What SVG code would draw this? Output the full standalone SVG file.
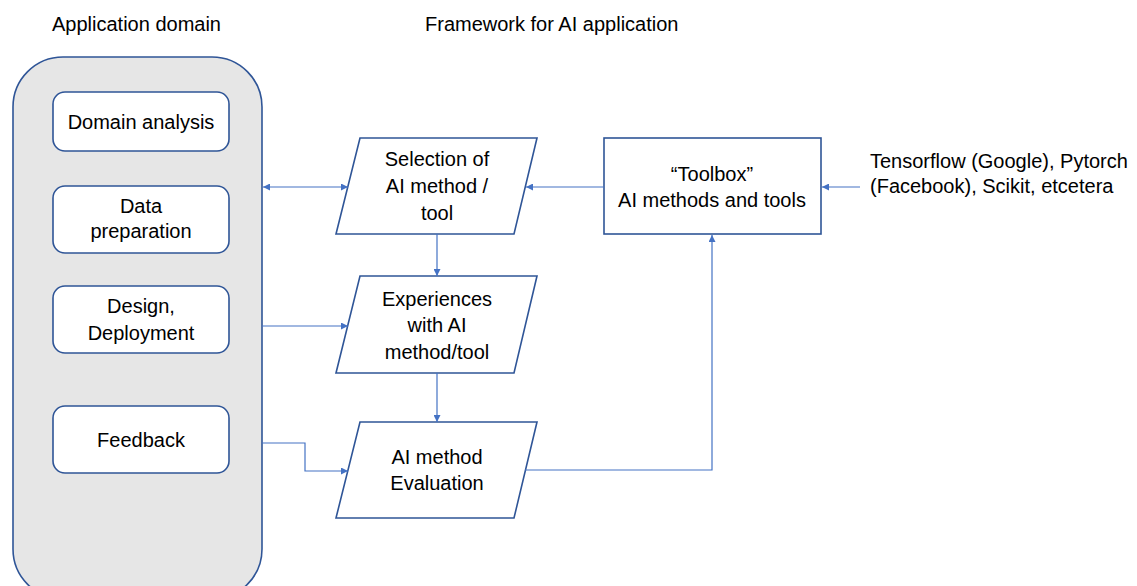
<svg xmlns="http://www.w3.org/2000/svg" width="1137" height="586" viewBox="0 0 1137 586">
<defs>
<style>
text{font-family:"Liberation Sans",Arial,sans-serif;font-size:20px;fill:#000;}
.c{text-anchor:middle;}
.shape{fill:#fff;stroke:#2F5597;stroke-width:1.6;}
.cont{fill:#E6E6E6;stroke:#2F5597;stroke-width:1.6;}
.conn{fill:none;stroke:#4472C4;stroke-width:1.2;}
</style>
<marker id="ah" viewBox="0 0 10 10" refX="10" refY="5" markerWidth="8" markerHeight="7" markerUnits="userSpaceOnUse" orient="auto-start-reverse">
<path d="M0,0 L10,5 L0,10 z" fill="#4472C4"/>
</marker>
</defs>
<rect width="1137" height="586" fill="#fff"/>
<text x="52" y="31">Application domain</text>
<text x="425" y="31">Framework for AI application</text>

<g id="application-domain">
<rect class="cont" x="13" y="57" width="249" height="542" rx="50" ry="50"/>
</g>
<g id="domain-analysis">
<rect class="shape" x="53" y="92" width="176" height="59" rx="12"/>
<text class="c" x="141" y="129">Domain analysis</text>
</g>
<g id="data-preparation">
<rect class="shape" x="53" y="186" width="176" height="67" rx="12"/>
<text class="c" x="141" y="213">Data</text>
<text class="c" x="141" y="238">preparation</text>
</g>
<g id="design-deployment">
<rect class="shape" x="53" y="286" width="176" height="67" rx="12"/>
<text class="c" x="141" y="313">Design,</text>
<text class="c" x="141" y="340">Deployment</text>
</g>
<g id="feedback">
<rect class="shape" x="53" y="406" width="176" height="67" rx="12"/>
<text class="c" x="141" y="447">Feedback</text>
</g>

<g id="selection">
<polygon class="shape" points="360,138 537,138 514,234 336,234"/>
<text class="c" x="437" y="166">Selection of</text>
<text class="c" x="437" y="193">AI method /</text>
<text class="c" x="437" y="220">tool</text>
</g>
<g id="experiences">
<polygon class="shape" points="360,276 537,276 514,373 336,373"/>
<text class="c" x="437" y="306">Experiences</text>
<text class="c" x="437" y="332">with AI</text>
<text class="c" x="437" y="359">method/tool</text>
</g>
<g id="evaluation">
<polygon class="shape" points="360,422 537,422 514,518 336,518"/>
<text class="c" x="437" y="464">AI method</text>
<text class="c" x="437" y="490">Evaluation</text>
</g>
<g id="toolbox">
<rect class="shape" x="604" y="138" width="217" height="96"/>
<text class="c" x="712" y="181">“Toolbox”</text>
<text class="c" x="712" y="207">AI methods and tools</text>
</g>
<g id="libraries">
<text x="870" y="168">Tensorflow (Google), Pytorch</text>
<text x="870" y="193">(Facebook), Scikit, etcetera</text>
</g>

<g id="connectors">
<path class="conn" d="M263,187 L348,187" marker-start="url(#ah)" marker-end="url(#ah)"/>
<path class="conn" d="M604,187 L526,187" marker-end="url(#ah)"/>
<path class="conn" d="M860,187 L822,187" marker-end="url(#ah)"/>
<path class="conn" d="M437,234 L437,276" marker-end="url(#ah)"/>
<path class="conn" d="M437,373 L437,422" marker-end="url(#ah)"/>
<path class="conn" d="M262,326 L348,326" marker-end="url(#ah)"/>
<path class="conn" d="M262,443 L305,443 L305,471 L348,471" marker-end="url(#ah)"/>
<path class="conn" d="M525,470 L712,470 L712,235" marker-end="url(#ah)"/>
</g>
</svg>
